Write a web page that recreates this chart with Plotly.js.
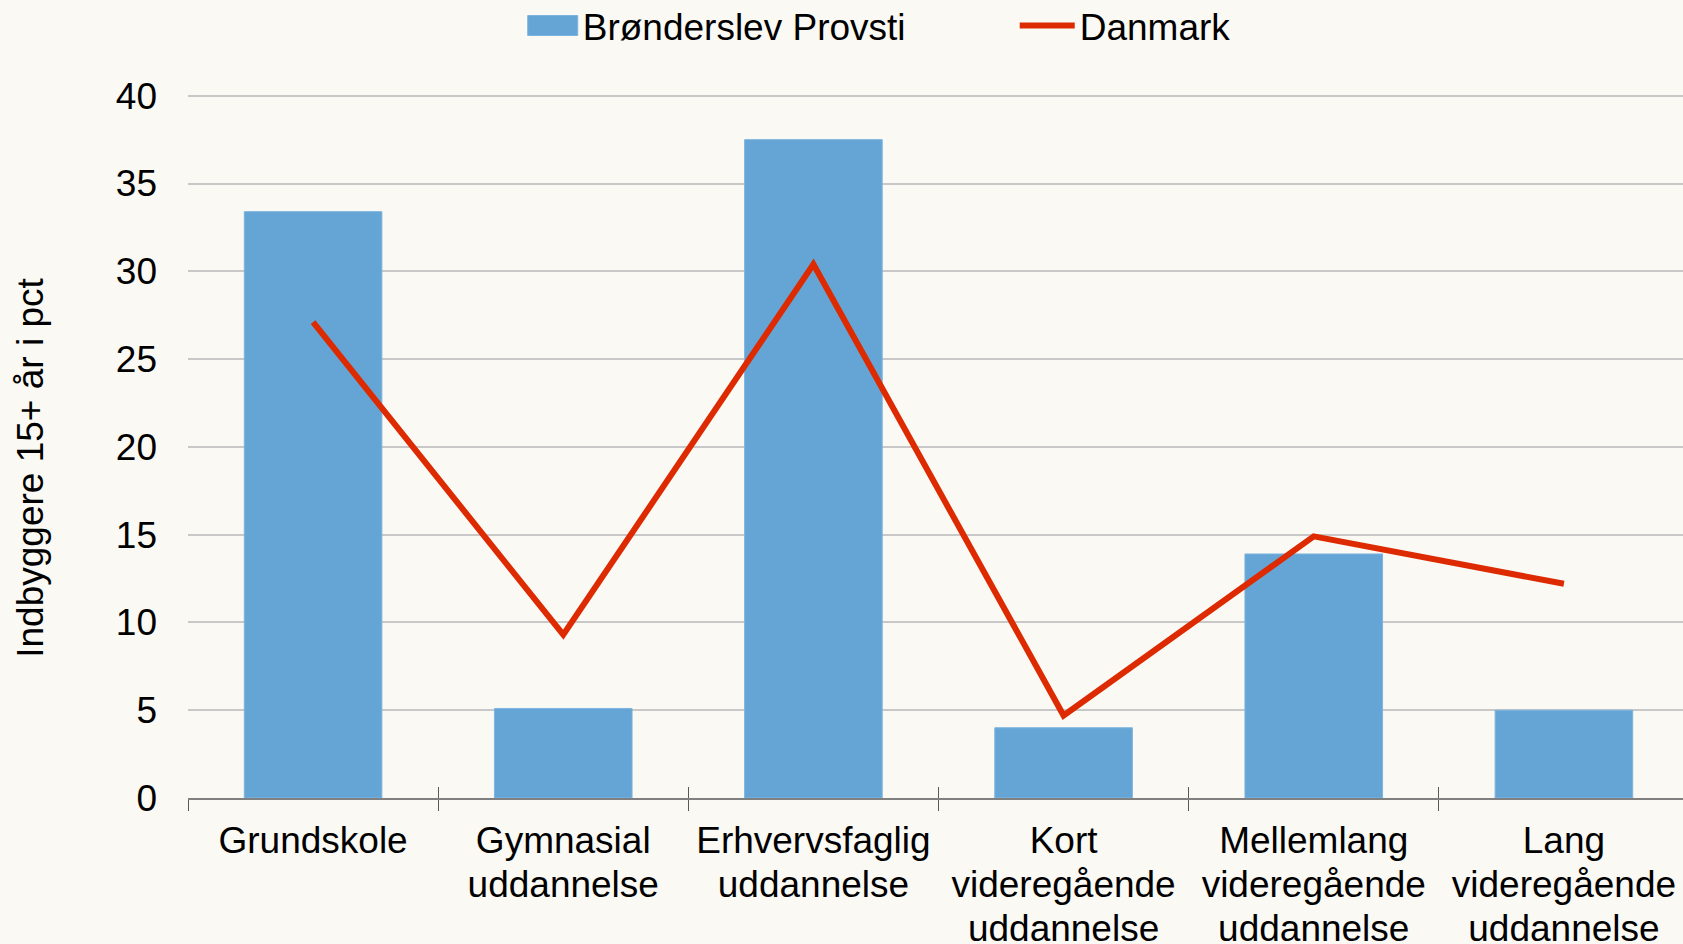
<!DOCTYPE html>
<html>
<head>
<meta charset="utf-8">
<script src="https://cdn.plot.ly/plotly-3.0.1.min.js"></script>
<style>
html,body{margin:0;padding:0;background:#FAF9F4;overflow:hidden;}
#chart{width:1689px;height:944px;}
</style>
</head>
<body>
<div id="chart"></div>
<script>
const categories = ["Grundskole", "Gymnasial uddannelse", "Erhvervsfaglig uddannelse", "Kort videregående uddannelse", "Mellemlang videregående uddannelse", "Lang videregående uddannelse"];
const tickLabels = ["Grundskole", "Gymnasial<br>uddannelse", "Erhvervsfaglig<br>uddannelse", "Kort<br>videregående<br>uddannelse", "Mellemlang<br>videregående<br>uddannelse", "Lang<br>videregående<br>uddannelse"];
const provstiValues = [33.4, 5.1, 37.5, 4.0, 13.9, 5.0];
const danmarkValues = [27.1, 9.3, 30.4, 4.7, 14.9, 12.2];
const yTicks = [0, 5, 10, 15, 20, 25, 30, 35, 40];
const yTitle = "Indbyggere 15+ år i pct";

const font = {family: "Liberation Sans, Arial, sans-serif", size: 37, color: "#000000"};

const traces = [
  {
    type: "bar",
    name: "Brønderslev Provsti",
    x: categories,
    y: provstiValues,
    marker: {color: "#64A5D6", line: {color: "#7DB4DE", width: 1}},
    hoverinfo: "skip"
  },
  {
    type: "scatter",
    mode: "lines",
    name: "Danmark",
    x: categories,
    y: danmarkValues,
    line: {color: "#DD2A00", width: 6},
    hoverinfo: "skip"
  },
  {
    type: "scatter",
    mode: "lines",
    x: categories,
    y: danmarkValues,
    xaxis: "x2",
    showlegend: false,
    line: {color: "rgba(0,0,0,0)", width: 0},
    hoverinfo: "skip"
  }
];

const layout = {
  width: 1689,
  height: 944,
  paper_bgcolor: "#FAF9F4",
  plot_bgcolor: "#FAF9F4",
  font: font,
  margin: {l: 188, r: 0, t: 94, b: 146, pad: 0},
  bargap: 0.45,
  showlegend: true,
  legend: {
    orientation: "h",
    x: 0.223,
    xanchor: "left",
    yref: "container",
    y: 0.9725,
    yanchor: "middle",
    font: font,
    itemwidth: 50,
    entrywidth: 432,
    bgcolor: "rgba(0,0,0,0)"
  },
  xaxis: {
    type: "category",
    categoryarray: categories,
    tickvals: categories,
    ticktext: tickLabels,
    tickson: "boundaries",
    ticks: "outside",
    ticklen: 11,
    tickwidth: 1,
    tickcolor: "#595959",
    showline: true,
    linecolor: "#808080",
    linewidth: 2,
    showgrid: false,
    tickfont: font,
    ticklabelstandoff: 9,
    range: [-0.5, 5.5]
  },
  xaxis2: {
    type: "category",
    overlaying: "x",
    matches: "x",
    side: "bottom",
    categoryarray: categories,
    tickvals: categories,
    tickson: "boundaries",
    ticks: "inside",
    ticklen: 11,
    tickwidth: 1,
    tickcolor: "#595959",
    showticklabels: false,
    showline: false,
    showgrid: false
  },
  yaxis: {
    range: [0, 40.1],
    tickvals: yTicks,
    showgrid: true,
    gridcolor: "#C8C8C8",
    gridwidth: 2,
    zeroline: false,
    showline: false,
    ticks: "",
    tickfont: font,
    ticklabelstandoff: 30,
    automargin: true,
    title: {text: yTitle, font: font, standoff: 60}
  }
};

Plotly.newPlot("chart", traces, layout, {displayModeBar: false, staticPlot: true}).then(function (gd) {
  // tighter line spacing for multi-line category labels, as in the reference
  gd.querySelectorAll(".xtick text tspan.line").forEach(function (t) {
    const dy = t.getAttribute("dy");
    if (dy && dy.indexOf("em") > 0) {
      const v = parseFloat(dy);
      t.setAttribute("dy", (v * 1.18 / 1.3) + "em");
    }
  });
  // wider legend swatch for the bar series, as in the reference
  const barLegend = gd.querySelector(".legend .traces .legendpoints path");
  if (barLegend) {
    barLegend.setAttribute("d", "M25,10H-25V-10H25Z");
  }
  // slightly longer legend line for the Danmark series
  gd.querySelectorAll(".legend .traces .legendlines path").forEach(function (p) {
    const d = p.getAttribute("d") || "";
    const m = d.match(/^M([\d.\-]+),0h([\d.]+)$/);
    if (m) {
      const x0 = parseFloat(m[1]) - 5;
      const len = parseFloat(m[2]) + 5;
      p.setAttribute("d", "M" + x0 + ",0h" + len);
    }
  });
  // the reference's axis title sits a little below the plot centre
  const yt = gd.querySelector(".ytitle");
  if (yt) {
    const tr = yt.getAttribute("transform") || "";
    yt.setAttribute("transform", "translate(0,22) " + tr);
  }
});
</script>
</body>
</html>
